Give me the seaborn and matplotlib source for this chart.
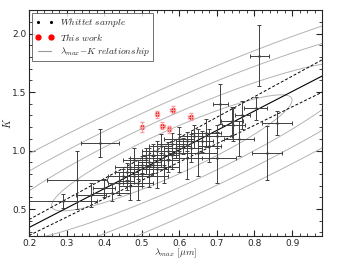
import numpy as np
import pandas as pd
import matplotlib
matplotlib.use('Agg')
import matplotlib.pyplot as plt
import seaborn as sns
from matplotlib.lines import Line2D

sns.set_style('ticks')
plt.rcParams.update({
    'mathtext.fontset': 'cm',
    'font.size': 6.5,
    'xtick.direction': 'in', 'ytick.direction': 'in',
    'xtick.top': True, 'ytick.right': True,
    'xtick.major.size': 4, 'ytick.major.size': 4,
    'xtick.minor.size': 2, 'ytick.minor.size': 2,
    'axes.linewidth': 0.8,
})

# Whittet sample (lambda_max, K and errors)
lam_w = [0.290, 0.328, 0.389, 0.365, 0.400, 0.420, 0.440, 0.450, 0.460, 0.460,
         0.470, 0.470, 0.480, 0.480, 0.490, 0.490, 0.500, 0.500, 0.510, 0.510,
         0.520, 0.520, 0.530, 0.530, 0.540, 0.540, 0.550, 0.550, 0.560, 0.560,
         0.570, 0.570, 0.580, 0.580, 0.590, 0.600, 0.600, 0.610, 0.620, 0.620,
         0.630, 0.640, 0.650, 0.660, 0.670, 0.680, 0.700, 0.700, 0.709, 0.744,
         0.767, 0.803, 0.813, 0.834, 0.861, 0.760, 0.740]
k_w = [0.57, 0.75, 1.065, 0.62, 0.68, 0.64, 0.72, 0.78, 0.74, 0.82,
       0.70, 0.86, 0.78, 0.92, 0.84, 0.72, 0.88, 0.80, 0.94, 0.86,
       0.90, 0.78, 0.96, 0.88, 0.84, 1.00, 0.92, 1.04, 0.96, 0.86,
       1.00, 0.92, 1.06, 0.96, 1.02, 0.98, 1.10, 1.04, 0.94, 1.08,
       1.02, 1.12, 0.98, 1.08, 1.15, 1.04, 0.94, 1.12, 1.40, 1.22,
       1.30, 1.36, 1.81, 0.98, 1.235, 1.10, 1.25]
lam_w_err = [0.09, 0.08, 0.05, 0.04, 0.03, 0.05, 0.03, 0.04, 0.02, 0.03,
             0.03, 0.04, 0.02, 0.03, 0.03, 0.04, 0.02, 0.03, 0.04, 0.02,
             0.03, 0.05, 0.03, 0.02, 0.03, 0.04, 0.02, 0.03, 0.03, 0.04,
             0.02, 0.03, 0.04, 0.02, 0.03, 0.03, 0.04, 0.02, 0.04, 0.03,
             0.03, 0.04, 0.05, 0.03, 0.04, 0.03, 0.05, 0.04, 0.02, 0.03,
             0.02, 0.03, 0.025, 0.04, 0.04, 0.04, 0.03]
k_w_err = [0.06, 0.25, 0.12, 0.10, 0.08, 0.07, 0.10, 0.06, 0.08, 0.07,
           0.12, 0.08, 0.06, 0.10, 0.08, 0.14, 0.07, 0.10, 0.08, 0.06,
           0.12, 0.09, 0.10, 0.07, 0.16, 0.08, 0.06, 0.10, 0.08, 0.14,
           0.07, 0.10, 0.09, 0.12, 0.08, 0.16, 0.10, 0.07, 0.18, 0.08,
           0.12, 0.10, 0.20, 0.09, 0.12, 0.14, 0.22, 0.10, 0.17, 0.14,
           0.12, 0.10, 0.26, 0.23, 0.10, 0.15, 0.12]

# This work
lam_t = [0.500, 0.541, 0.555, 0.573, 0.582, 0.630]
k_t = [1.20, 1.31, 1.21, 1.18, 1.35, 1.29]
lam_t_err = [0.006, 0.006, 0.006, 0.006, 0.006, 0.006]
k_t_err = [0.04, 0.03, 0.03, 0.03, 0.03, 0.03]

# lambda_max - K relationship: K = a + b * lambda_max (with +/- 1 sigma)
rel_a, rel_b = 0.01, 1.66
rel_da, rel_db = 0.05, 0.09

# bivariate gaussian contours of the sample
g_mean = (0.58, 0.98)
g_sd = (0.20, 0.31)
g_rho = 0.909
g_levels = [1.6, 2.5, 3.5, 4.5]

fig = plt.figure(figsize=(3.54, 2.59), dpi=100)
ax = fig.add_axes([0.082, 0.089, 0.828, 0.872])

# contours
gx, gy = np.meshgrid(np.linspace(0.1, 1.1, 500), np.linspace(0.0, 2.5, 500))
zx = (gx - g_mean[0]) / g_sd[0]
zy = (gy - g_mean[1]) / g_sd[1]
d = np.sqrt((zx**2 - 2*g_rho*zx*zy + zy**2) / (1 - g_rho**2))
ax.contour(gx, gy, d, levels=g_levels, colors='0.7', linewidths=0.7)

xl = np.array([0.2, 0.98])
ax.plot(xl, rel_a + rel_b*xl, color='k', lw=0.8)
ax.plot(xl, rel_a + rel_da + (rel_b + rel_db)*xl, color='k', lw=0.7, ls='--', dashes=(3, 2))
ax.plot(xl, rel_a - rel_da + (rel_b - rel_db)*xl, color='k', lw=0.7, ls='--', dashes=(3, 2))

ax.errorbar(lam_w, k_w, xerr=lam_w_err, yerr=k_w_err, fmt='none',
            ecolor='0.25', elinewidth=0.7, capsize=1.5, capthick=0.7)
sns.scatterplot(x=lam_w, y=k_w, ax=ax, color='k', s=3, linewidth=0)

ax.errorbar(lam_t, k_t, xerr=lam_t_err, yerr=k_t_err, fmt='none',
            ecolor='#f4a0a0', elinewidth=0.8, capsize=1.5)
sns.scatterplot(x=lam_t, y=k_t, ax=ax, color='red', s=13, linewidth=0)

ax.set_xlim(0.2, 0.98)
ax.set_ylim(0.27, 2.2)
ax.set_xticks([0.2, 0.3, 0.4, 0.5, 0.6, 0.7, 0.8, 0.9])
ax.set_yticks([0.5, 1.0, 1.5, 2.0])
ax.xaxis.set_minor_locator(matplotlib.ticker.MultipleLocator(0.02))
ax.yaxis.set_minor_locator(matplotlib.ticker.MultipleLocator(0.1))
ax.tick_params(which='both', top=True, right=True, direction='in', labelsize=6.5, pad=2)
ax.set_xlabel(r'$\lambda_{max}\ [\mu m]$', fontsize=7, labelpad=-1)
ax.set_ylabel(r'$K$', fontsize=7.5, labelpad=-1)

handles = [
    Line2D([], [], ls='none', marker='.', color='k', markersize=2.5),
    Line2D([], [], ls='none', marker='o', color='red', markersize=3.5),
    Line2D([], [], color='0.6', lw=0.8),
]
labels = [r'$Whittet\ sample$', r'$This\ work$', r'$\lambda_{max}$' + r'$-K\ relationship$']
leg = ax.legend(handles, labels, loc='upper left', numpoints=2, fontsize=6.8,
                frameon=True, fancybox=False, edgecolor='0.3', handlelength=2.0,
                handletextpad=0.6, borderpad=0.35, labelspacing=0.25,
                borderaxespad=0.3)
leg.get_frame().set_linewidth(0.7)

fig.savefig('out.png', dpi=100)
